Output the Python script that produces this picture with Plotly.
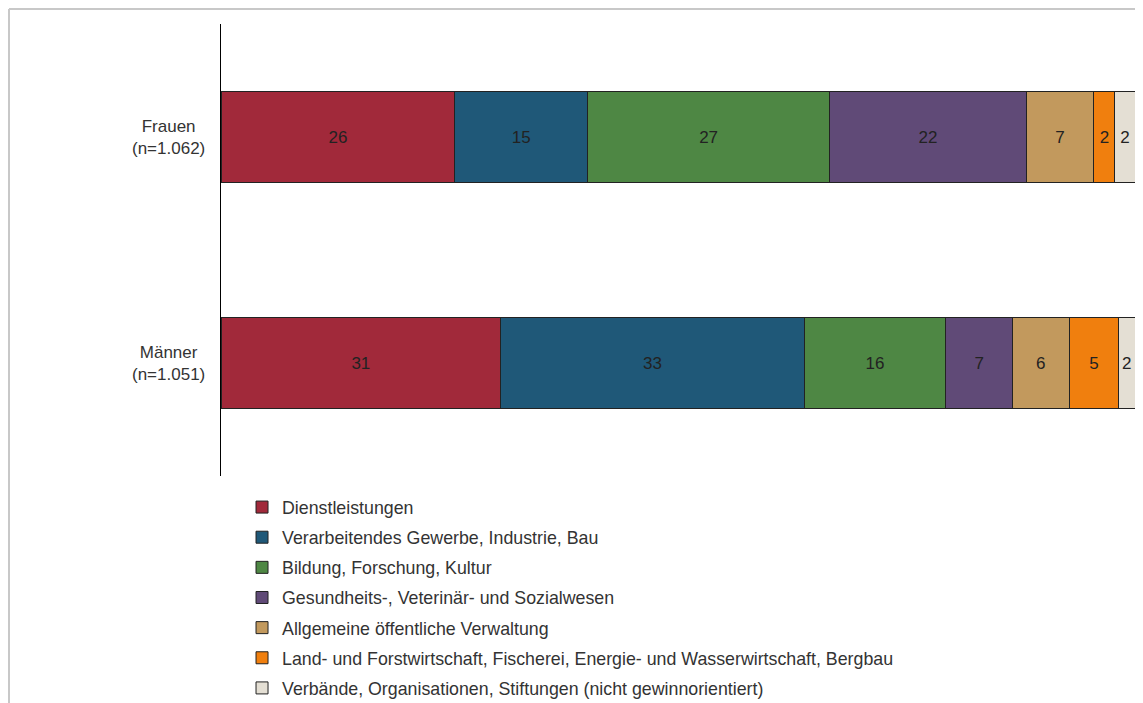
import plotly.graph_objects as go

# Kategorien (y-Achse) und Branchen
groups = ["Männer<br>(n=1.051)", "Frauen<br>(n=1.062)"]
sectors = [
    "Dienstleistungen",
    "Verarbeitendes Gewerbe, Industrie, Bau",
    "Bildung, Forschung, Kultur",
    "Gesundheits-, Veterinär- und Sozialwesen",
    "Allgemeine öffentliche Verwaltung",
    "Land- und Forstwirtschaft, Fischerei, Energie- und Wasserwirtschaft, Bergbau",
    "Verbände, Organisationen, Stiftungen (nicht gewinnorientiert)",
]
colors = ["#a1293a", "#1f5878", "#4e8744", "#604a77", "#c2995d", "#f07f0e", "#e4dfd4"]

# Anteile in Prozent (aus Balkenlängen geschätzt) und beschriftete Werte
maenner_share = [30.6, 33.2, 15.5, 7.3, 6.2, 5.4, 1.8]
frauen_share = [25.6, 14.5, 26.5, 21.5, 7.4, 2.3, 2.2]
maenner_labels = [31, 33, 16, 7, 6, 5, 2]
frauen_labels = [26, 15, 27, 22, 7, 2, 2]

FONT = "Liberation Sans"

fig = go.Figure()
for i, name in enumerate(sectors):
    fig.add_trace(go.Bar(
        y=groups,
        x=[maenner_share[i], frauen_share[i]],
        orientation="h",
        name=name,
        legendgroup=name,
        marker=dict(color=colors[i], line=dict(color="#222222", width=1)),
        text=[str(maenner_labels[i]), str(frauen_labels[i])],
        textposition="inside",
        insidetextanchor="middle",
        textangle=0,
        textfont=dict(family=FONT, size=17, color="#222222"),
        hoverinfo="skip",
    ))

# die Seite hat 8px Rand -> Figur etwas kleiner
fig.update_layout(
    barmode="stack",
    bargap=0.6,
    width=1135,
    height=695,
    margin=dict(l=213, r=8, t=16, b=227, autoexpand=False),
    paper_bgcolor="white",
    plot_bgcolor="white",
    font=dict(family=FONT, size=17, color="#333333"),
    uniformtext=dict(minsize=17, mode="show"),
    showlegend=True,
    legend=dict(
        orientation="v",
        x=0.023,
        xanchor="left",
        yref="container",
        y=1 - 481 / 695,
        yanchor="top",
        traceorder="grouped",
        tracegroupgap=4,
        font=dict(family=FONT, size=17.8, color="#333333"),
        bgcolor="rgba(0,0,0,0)",
    ),
    xaxis=dict(range=[0, 100], visible=False, fixedrange=True),
    yaxis=dict(
        range=[-0.5, 1.5],
        showline=True,
        linecolor="#000000",
        linewidth=1,
        showticklabels=False,
        ticks="",
        showgrid=False,
        zeroline=False,
    ),
)

# Kategorienbeschriftungen zentriert links der Achse
for g in groups:
    fig.add_annotation(
        x=0, xref="paper", y=g, yref="y",
        text=g, showarrow=False,
        xanchor="right", yanchor="middle", xshift=-14,
        align="center",
        font=dict(family=FONT, size=17, color="#333333"),
    )

# grauer Rahmen oben und links
top = 1 + 15 / 452
left = -212 / 914
fig.add_shape(type="line", xref="paper", yref="paper",
              x0=left, x1=1.02, y0=top, y1=top,
              line=dict(color="#c8c8c8", width=2))
fig.add_shape(type="line", xref="paper", yref="paper",
              x0=left, x1=left, y0=top, y1=-0.51,
              line=dict(color="#c8c8c8", width=2))

fig.write_html("out.html")
